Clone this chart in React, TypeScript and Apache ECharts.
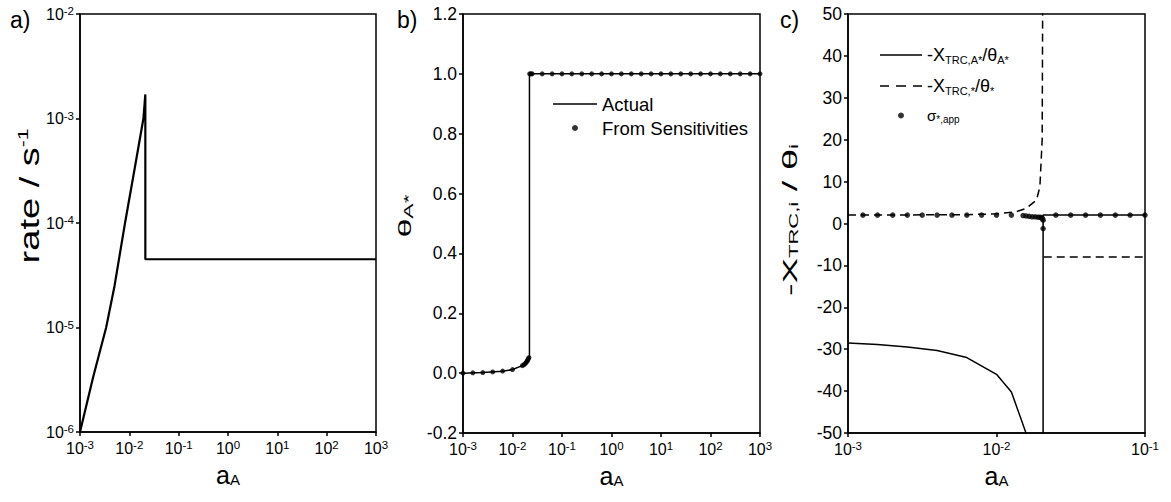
import React, { useEffect, useRef } from "react";
import * as echarts from "echarts";

// ---------- Panel a: rate vs a_A ----------
const rateX = [0.001, 0.00186, 0.00339, 0.00501, 0.00818, 0.0126, 0.0193, 0.0211, 0.0211, 1000];
const rateY = [1e-6, 3.4e-6, 1e-5, 2.5e-5, 1e-4, 3.16e-4, 1e-3, 1.7e-3, 4.5e-5, 4.5e-5];

// ---------- Panel b: theta_A* vs a_A ----------
const actualX = [0.001, 0.00251, 0.00631, 0.01, 0.0158, 0.0191, 0.0201, 0.022, 0.022, 1000];
const actualY = [0, 0.002, 0.006, 0.012, 0.025, 0.036, 0.048, 0.053, 1.0, 1.0];
const sensX = [
  0.001, 0.00158, 0.00251, 0.00398, 0.00631, 0.01, 0.0158, 0.017, 0.018, 0.019, 0.0197, 0.0203, 0.0209, 0.0215,
  0.0222, 0.0235, 0.025, 0.0398, 0.0631, 0.1, 0.158, 0.251, 0.398, 0.631, 1, 1.58, 2.51, 3.98, 6.31, 10, 15.8,
  25.1, 39.8, 63.1, 100, 158, 251, 398, 631, 1000,
];
const sensY = [
  0, 0.001, 0.002, 0.004, 0.007, 0.012, 0.025, 0.028, 0.032, 0.036, 0.04, 0.044, 0.048, 0.052,
  1, 1, 1, 1, 1, 1, 1, 1, 1, 1, 1, 1, 1, 1, 1, 1, 1, 1, 1, 1, 1, 1, 1, 1, 1, 1,
];

// ---------- Panel c: -X_TRC,i / theta_i vs a_A ----------
const solidCX = [0.001, 0.00158, 0.00251, 0.00398, 0.00631, 0.01, 0.0126, 0.0158, 0.0206, 0.0206, 0.1];
const solidCY = [-28.5, -28.9, -29.5, -30.3, -32.0, -36, -40.2, -50, -200, 2, 2];
const dashCX = [0.001, 0.006, 0.01, 0.0135, 0.0158, 0.0186, 0.0196, 0.0203, 0.0205];
const dashCY = [2, 2.1, 2.3, 2.8, 3.6, 5.6, 8.8, 20, 60];
const dash2CX = [0.0208, 0.1];
const dash2CY = [-8, -8];
const sigX = [
  0.00126, 0.00158, 0.002, 0.00251, 0.00316, 0.00398, 0.00501, 0.00631, 0.00794, 0.01, 0.0126,
  0.0151, 0.0158, 0.0166, 0.0174, 0.0182, 0.019, 0.0196, 0.0201, 0.0204, 0.0206, 0.0206,
  0.0251, 0.0316, 0.0398, 0.0501, 0.0631, 0.0794, 0.1,
];
const sigY = [
  2, 2, 2, 2, 2, 2, 2, 2, 2, 2, 2,
  1.9, 1.8, 1.7, 1.6, 1.6, 1.5, 1.5, 1.4, 1.2, 0.8, -1.2,
  2, 2, 2, 2, 2, 2, 2,
];

const FONT = "'Liberation Sans', Arial, sans-serif";

const zip = (xs: number[], ys: number[]) => xs.map((x, i) => [x, ys[i]]);

const powLabel = (v: number) => {
  const e = Math.round(Math.log10(v));
  return `{b|10}{e|${e}}`;
};

const powRich = {
  b: { fontSize: 16, color: "#000", fontFamily: FONT, lineHeight: 18 },
  e: { fontSize: 11.5, color: "#000", fontFamily: FONT, verticalAlign: "top", lineHeight: 12, padding: [0, 0, 6, 0] },
};

const axisLine = { show: true, onZero: false, lineStyle: { color: "#000", width: 1.5 } };
const axisTick = { show: true, inside: false, length: 4, lineStyle: { color: "#000", width: 1.5 } };

const grids = [
  { left: 80, top: 14, width: 296, height: 418 },
  { left: 463, top: 14, width: 297, height: 419 },
  { left: 848, top: 14, width: 297, height: 419 },
].map((g) => ({ ...g, show: true, borderColor: "#000", borderWidth: 1.5, backgroundColor: "transparent" }));

const xName = {
  name: "a{s|A}",
  nameLocation: "middle",
  nameGap: 30,
  nameTextStyle: {
    fontSize: 25,
    color: "#000",
    fontFamily: FONT,
    rich: { s: { fontSize: 15, color: "#000", fontFamily: FONT, verticalAlign: "bottom", padding: [10, 0, 0, 0] } },
  },
};

const yTitle = (x: number, y: number, text: string, fontSize: number, squish: number, rich: any) => ({
  type: "text",
  x,
  y,
  rotation: Math.PI / 2,
  scaleX: 1,
  scaleY: squish,
  style: { text, fontSize, fill: "#000", fontFamily: FONT, align: "center", verticalAlign: "middle", rich },
});

export default function App() {
  const ref = useRef<HTMLDivElement>(null);
  useEffect(() => {
    if (!ref.current) return;
    const chart = echarts.init(ref.current, undefined, { renderer: "svg" });
    const logX = (gi: number, min: number, max: number) => ({
      type: "log",
      logBase: 10,
      gridIndex: gi,
      min,
      max,
      axisLine,
      axisTick,
      splitLine: { show: false },
      minorTick: { show: false },
      axisLabel: { formatter: powLabel, rich: powRich, margin: 7, color: "#000" },
      ...xName,
    });
    const valueLabel = { fontSize: 17.5, color: "#000", fontFamily: FONT, margin: 6 };
    const option: any = {
      animation: false,
      backgroundColor: "#fff",
      textStyle: { fontFamily: FONT },
      grid: grids,
      xAxis: [logX(0, 1e-3, 1e3), logX(1, 1e-3, 1e3), logX(2, 1e-3, 1e-1)],
      yAxis: [
        {
          type: "log",
          logBase: 10,
          gridIndex: 0,
          min: 1e-6,
          max: 1e-2,
          axisLine,
          axisTick,
          splitLine: { show: false },
          axisLabel: { formatter: powLabel, rich: powRich, margin: 6, color: "#000" },
        },
        {
          type: "value",
          gridIndex: 1,
          min: -0.2,
          max: 1.2,
          interval: 0.2,
          axisLine,
          axisTick,
          splitLine: { show: false },
          axisLabel: { ...valueLabel, formatter: (v: number) => v.toFixed(1) },
        },
        {
          type: "value",
          gridIndex: 2,
          min: -50,
          max: 50,
          interval: 10,
          axisLine,
          axisTick,
          splitLine: { show: false },
          axisLabel: valueLabel,
        },
      ],
      legend: [
        {
          data: [
            { name: "Actual", icon: "path://M0,0h44v1.5h-44z" },
            { name: "From Sensitivities", icon: "circle" },
          ],
          orient: "vertical",
          left: 553,
          top: 94,
          padding: 0,
          itemWidth: 44,
          itemHeight: 6,
          itemGap: 4,
          textStyle: { fontSize: 18.5, color: "#000", fontFamily: FONT, lineHeight: 20 },
          selectedMode: false,
        },
        {
          data: [
            { name: "xa", icon: "path://M0,0h42v1.5h-42z" },
            { name: "xs", icon: "path://M0,0h9v1.5h-9zM16,0h10v1.5h-10zM33,0h9v1.5h-9z" },
            { name: "sig", icon: "circle" },
          ],
          orient: "vertical",
          left: 880,
          top: 46,
          padding: 0,
          itemWidth: 42,
          itemHeight: 6,
          itemGap: 12,
          selectedMode: false,
          formatter: (n: string) =>
            n === "xa"
              ? "{m|-X}{s|TRC,A*}{m|/θ}{s|A*}"
              : n === "xs"
              ? "{m|-X}{s|TRC,*}{m|/θ}{s|*}"
              : "{g|σ}{t|*,app}",
          textStyle: {
            color: "#000",
            fontFamily: FONT,
            rich: {
              m: { fontSize: 18, color: "#000", fontFamily: FONT, lineHeight: 20 },
              s: { fontSize: 11, color: "#000", fontFamily: FONT, verticalAlign: "bottom", lineHeight: 12 },
              g: { fontSize: 15, color: "#000", fontFamily: FONT, lineHeight: 18 },
              t: { fontSize: 10, color: "#000", fontFamily: FONT, verticalAlign: "bottom", lineHeight: 10 },
            },
          },
        },
      ],
      graphic: [
        { type: "text", left: 10, top: 8, style: { text: "a)", fontSize: 23, fill: "#000", fontFamily: FONT } },
        { type: "text", left: 397, top: 8, style: { text: "b)", fontSize: 23, fill: "#000", fontFamily: FONT } },
        { type: "text", left: 780, top: 8, style: { text: "c)", fontSize: 23, fill: "#000", fontFamily: FONT } },
        yTitle(29, 196, "rate / s{s|-1}", 38, 0.72, {
          s: { fontSize: 21, fill: "#000", fontFamily: FONT, verticalAlign: "top", padding: [0, 0, 14, 0] },
        }),
        yTitle(405, 216, "θ{s|A*}", 34, 0.55, {
          s: { fontSize: 23, fill: "#000", fontFamily: FONT, verticalAlign: "bottom", padding: [14, 0, 0, 0] },
        }),
        yTitle(790, 220, "-X{s|TRC,i} / θ{s|i}", 38, 0.55, {
          s: { fontSize: 22, fill: "#000", fontFamily: FONT, verticalAlign: "bottom", padding: [14, 0, 0, 0] },
        }),
      ],
      series: [
        {
          name: "rate",
          type: "line",
          xAxisIndex: 0,
          yAxisIndex: 0,
          data: zip(rateX, rateY),
          symbol: "none",
          lineStyle: { color: "#000", width: 2.2 },
        },
        {
          name: "Actual",
          type: "line",
          xAxisIndex: 1,
          yAxisIndex: 1,
          data: zip(actualX, actualY),
          symbol: "none",
          itemStyle: { color: "#000" },
          lineStyle: { color: "#000", width: 1.5 },
        },
        {
          name: "From Sensitivities",
          type: "scatter",
          xAxisIndex: 1,
          yAxisIndex: 1,
          data: zip(sensX, sensY),
          symbol: "circle",
          symbolSize: 5,
          itemStyle: { color: "#000" },
        },
        {
          name: "xa",
          type: "line",
          xAxisIndex: 2,
          yAxisIndex: 2,
          data: zip(solidCX, solidCY),
          symbol: "none",
          itemStyle: { color: "#000" },
          lineStyle: { color: "#000", width: 1.5 },
        },
        {
          name: "xs",
          type: "line",
          xAxisIndex: 2,
          yAxisIndex: 2,
          data: zip(dashCX, dashCY),
          symbol: "none",
          itemStyle: { color: "#000" },
          lineStyle: { color: "#000", width: 1.5, type: [8, 5] },
        },
        {
          name: "xs2",
          type: "line",
          xAxisIndex: 2,
          yAxisIndex: 2,
          data: zip(dash2CX, dash2CY),
          symbol: "none",
          itemStyle: { color: "#000" },
          lineStyle: { color: "#000", width: 1.5, type: [8, 5] },
        },
        {
          name: "sig",
          type: "scatter",
          xAxisIndex: 2,
          yAxisIndex: 2,
          data: zip(sigX, sigY),
          symbol: "circle",
          symbolSize: 5.5,
          itemStyle: { color: "#000" },
        },
      ],
    };
    chart.setOption(option);
    return () => chart.dispose();
  }, []);
  return (
    <div
      ref={ref}
      style={{ position: "fixed", left: 0, top: 0, width: 1171, height: 502, background: "#fff" }}
    />
  );
}
